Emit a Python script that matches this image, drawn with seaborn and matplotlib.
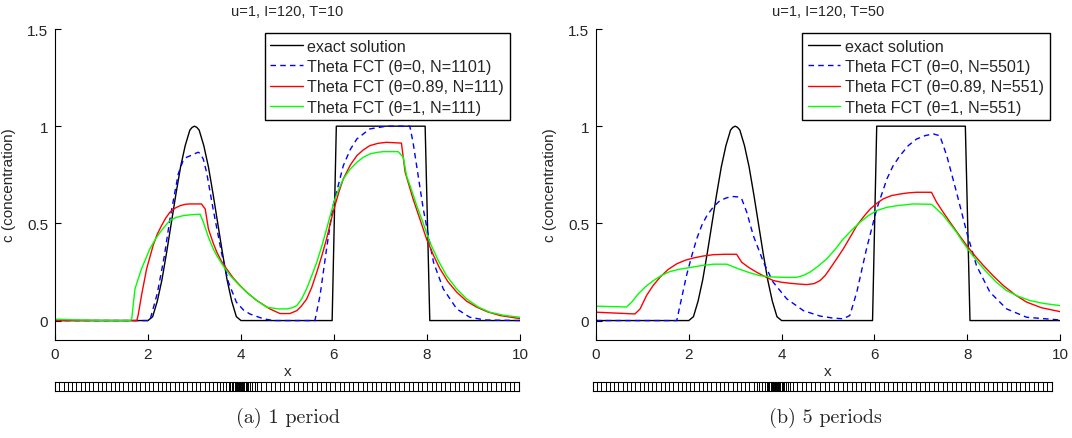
import numpy as np
import pandas as pd
import matplotlib
matplotlib.use("Agg")
import matplotlib.pyplot as plt
import seaborn as sns

# ---------------- data ----------------
titles = ["u=1, I=120, T=10", "u=1, I=120, T=50"]
captions = ["(a) 1 period", "(b) 5 periods"]
legend_labels = [
    ["exact solution", "Theta FCT (\u03b8=0, N=1101)", "Theta FCT (\u03b8=0.89, N=111)", "Theta FCT (\u03b8=1, N=111)"],
    ["exact solution", "Theta FCT (\u03b8=0, N=5501)", "Theta FCT (\u03b8=0.89, N=551)", "Theta FCT (\u03b8=1, N=551)"],
]
x_ticks = [0, 2, 4, 6, 8, 10]
y_ticks = [0, 0.5, 1, 1.5]
y_tick_labels = ["0", "0.5", "1", "1.5"]

x_exact = [0, 2.0, 2.1, 2.2, 2.3, 2.4, 2.5, 2.6, 2.7, 2.8, 2.9, 2.95, 3.0, 3.05, 3.1, 3.2, 3.3, 3.4,
           3.5, 3.6, 3.7, 3.8, 3.9, 4.0, 5.96, 6.05, 7.96, 8.06, 10]
c_exact = [0, 0, 0.02, 0.10, 0.21, 0.35, 0.50, 0.65, 0.79, 0.90, 0.98, 0.994, 1.0, 0.994, 0.98, 0.90, 0.79, 0.65,
           0.50, 0.35, 0.21, 0.10, 0.02, 0, 0, 1, 1, 0, 0]

# panel (a): 1 period
x_a_th0 = [0, 2.04, 2.2, 2.35, 2.47, 2.65, 2.75, 2.83, 2.93, 3.02, 3.08, 3.12, 3.19, 3.26, 3.40, 3.58, 3.73,
           3.90, 4.05, 4.19, 4.48, 4.7, 5.59, 5.70, 5.84, 5.98, 6.20, 6.35, 6.49, 6.77, 7.13, 7.63, 7.70,
           7.81, 7.92, 8.03, 8.14, 8.35, 8.64, 8.92, 9.25, 10]
c_a_th0 = [0, 0, 0.14, 0.33, 0.52, 0.754, 0.82, 0.84, 0.85, 0.86, 0.866, 0.86, 0.83, 0.763, 0.574, 0.35, 0.197,
           0.095, 0.055, 0.034, 0.009, 0.0, 0, 0.129, 0.369, 0.591, 0.797, 0.88, 0.934, 0.986, 1.0, 1.0, 0.917,
           0.745, 0.574, 0.437, 0.30, 0.163, 0.06, 0.017, 0.003, 0]

x_a_th089 = [0, 1.76, 1.79, 1.86, 1.97, 2.11, 2.2, 2.29, 2.38, 2.47, 2.58, 2.69, 2.80, 2.90, 3.15, 3.23, 3.30,
             3.40, 3.48, 3.58, 3.69, 3.83, 3.98, 4.15, 4.34, 4.62, 4.84, 5.05, 5.20, 5.30, 5.41, 5.52, 5.63,
             5.74, 5.84, 5.93, 6.02, 6.11, 6.20, 6.35, 6.49, 6.63, 6.77, 6.95, 7.13, 7.45, 7.53, 7.70, 7.85,
             7.99, 8.14, 8.28, 8.45, 8.64, 8.85, 9.07, 9.30, 9.57, 10]
c_a_th089 = [0, 0, 0.03, 0.129, 0.266, 0.386, 0.445, 0.488, 0.527, 0.557, 0.578, 0.591, 0.598, 0.60, 0.60, 0.574, 0.471,
             0.40, 0.352, 0.305, 0.266, 0.22, 0.18, 0.14, 0.103, 0.06, 0.036, 0.036, 0.051, 0.075, 0.11, 0.17, 0.249,
             0.335, 0.42, 0.51, 0.591, 0.665, 0.729, 0.80, 0.848, 0.878, 0.90, 0.912, 0.917, 0.913, 0.763, 0.626, 0.52,
             0.42, 0.335, 0.266, 0.20, 0.146, 0.10, 0.069, 0.045, 0.026, 0.01]

x_a_th1 = [0, 0.5, 1.0, 1.62, 1.65, 1.72, 1.86, 2.04, 2.15, 2.26, 2.37, 2.47, 2.6, 2.76, 2.95, 3.12, 3.19, 3.30,
           3.40, 3.48, 3.62, 3.77, 3.95, 4.12, 4.33, 4.55, 4.8, 4.98, 5.10, 5.20, 5.30, 5.41, 5.52, 5.63, 5.74,
           5.84, 5.93, 6.02, 6.11, 6.20, 6.35, 6.49, 6.63, 6.77, 6.92, 7.06, 7.38, 7.49, 7.56, 7.67, 7.78, 7.92,
           8.06, 8.24, 8.42, 8.63, 8.85, 9.10, 9.35, 9.65, 10]
c_a_th1 = [0.007, 0.003, 0.001, 0.0, 0.009, 0.163, 0.266, 0.369, 0.415, 0.454, 0.487, 0.514, 0.53, 0.54, 0.545, 0.547,
           0.506, 0.429, 0.37, 0.334, 0.28, 0.231, 0.185, 0.146, 0.105, 0.069, 0.06, 0.06, 0.066, 0.077, 0.11, 0.163,
           0.23, 0.30, 0.385, 0.471, 0.55, 0.626, 0.68, 0.729, 0.78, 0.814, 0.84, 0.857, 0.865, 0.869, 0.869, 0.84,
           0.745, 0.67, 0.591, 0.50, 0.403, 0.31, 0.231, 0.165, 0.112, 0.07, 0.043, 0.027, 0.017]

# panel (b): 5 periods
x_b_th0 = [0, 1.74, 1.81, 1.95, 2.06, 2.17, 2.28, 2.39, 2.53, 2.67, 2.82, 2.96, 3.07, 3.14, 3.25, 3.39, 3.61,
           3.82, 4.11, 4.47, 4.83, 5.10, 5.33, 5.47, 5.62, 5.83, 6.05, 6.27, 6.40, 6.55, 6.73, 6.91, 7.10, 7.27,
           7.41, 7.56, 7.77, 7.99, 8.20, 8.49, 8.85, 9.28, 10]
c_b_th0 = [0, 0, 0.077, 0.231, 0.33, 0.42, 0.49, 0.54, 0.585, 0.617, 0.632, 0.638, 0.636, 0.626, 0.557, 0.437, 0.30,
           0.197, 0.112, 0.051, 0.023, 0.013, 0.009, 0.026, 0.146, 0.369, 0.574, 0.729, 0.795, 0.848, 0.90, 0.934,
           0.952, 0.96, 0.951, 0.848, 0.66, 0.454, 0.283, 0.146, 0.06, 0.017, 0.003]

x_b_th089 = [0, 0.84, 0.95, 1.09, 1.23, 1.38, 1.55, 1.74, 1.92, 2.10, 2.31, 2.53, 2.78, 3.03, 3.14, 3.30, 3.46,
             3.64, 3.82, 4.00, 4.18, 4.36, 4.54, 4.70, 4.83, 4.94, 5.04, 5.18, 5.33, 5.48, 5.62, 5.77, 5.91,
             6.05, 6.19, 6.37, 6.55, 6.73, 6.91, 7.23, 7.34, 7.48, 7.63, 7.81, 7.99, 8.17, 8.35, 8.56, 8.78,
             9.03, 9.28, 9.60, 10]
c_b_th089 = [0.043, 0.034, 0.06, 0.129, 0.18, 0.223, 0.262, 0.292, 0.31, 0.322, 0.332, 0.339, 0.341, 0.341, 0.30, 0.272,
             0.249, 0.226, 0.206, 0.197, 0.192, 0.188, 0.185, 0.19, 0.206, 0.232, 0.266, 0.315, 0.369, 0.43, 0.488,
             0.535, 0.574, 0.603, 0.626, 0.643, 0.651, 0.657, 0.66, 0.66, 0.609, 0.558, 0.506, 0.445, 0.386, 0.332,
             0.283, 0.23, 0.18, 0.133, 0.095, 0.066, 0.046]

x_b_th1 = [0, 0.66, 0.77, 0.91, 1.07, 1.24, 1.41, 1.59, 1.80, 2.03, 2.28, 2.53, 2.82, 3.07, 3.30, 3.53, 3.75,
           3.97, 4.15, 4.33, 4.47, 4.61, 4.79, 4.97, 5.15, 5.33, 5.51, 5.69, 5.87, 6.05, 6.26, 6.48, 6.84, 7.23,
           7.36, 7.49, 7.63, 7.77, 7.91, 8.06, 8.24, 8.42, 8.63, 8.85, 9.10, 9.35, 9.65, 10]
c_b_th1 = [0.074, 0.07, 0.095, 0.137, 0.175, 0.206, 0.232, 0.252, 0.264, 0.273, 0.283, 0.29, 0.29, 0.266, 0.247, 0.231,
           0.225, 0.223, 0.222, 0.223, 0.232, 0.249, 0.28, 0.317, 0.365, 0.42, 0.465, 0.506, 0.54, 0.566, 0.582, 0.591,
           0.60, 0.598, 0.57, 0.54, 0.497, 0.454, 0.403, 0.352, 0.298, 0.249, 0.197, 0.154, 0.125, 0.103, 0.088, 0.077]

# mesh (I=120 cells), refined near x=4
mesh_breaks = [0, 3.5, 3.75, 3.9, 4.05, 4.2, 4.35, 10]
mesh_cells = [38, 4, 5, 8, 5, 3, 57]

# ---------------- styling ----------------
sns.set_style("ticks")
plt.rcParams["font.family"] = ["Liberation Sans", "DejaVu Sans"]
plt.rcParams["xtick.direction"] = "in"
plt.rcParams["ytick.direction"] = "in"

W, H = 1072, 439
fig = plt.figure(figsize=(W / 100, H / 100), dpi=100)

colors = ["black", "#0000ff", "#ff0000", "#00ff00"]

panels = [
    dict(ax=[55, 30, 520, 341], strip=[55, 383, 519, 392], cap_x=288,
         series=[(x_exact, c_exact), (x_a_th0, c_a_th0), (x_a_th089, c_a_th089), (x_a_th1, c_a_th1)]),
    dict(ax=[596, 30, 1060, 341], strip=[593, 383, 1052, 392], cap_x=825,
         series=[(x_exact, c_exact), (x_b_th0, c_b_th0), (x_b_th089, c_b_th089), (x_b_th1, c_b_th1)]),
]

nodes = np.unique(np.concatenate([np.linspace(a, b, n + 1)
                                  for a, b, n in zip(mesh_breaks[:-1], mesh_breaks[1:], mesh_cells)]))

for i, p in enumerate(panels):
    l, t, r, b = p["ax"]
    ax = fig.add_axes([l / W, (H - b) / H, (r - l) / W, (b - t) / H])
    for j, (xs, cs) in enumerate(p["series"]):
        df = pd.DataFrame({"x": xs, "c": cs})
        kw = dict(dashes=(4, 3)) if j == 1 else {}
        sns.lineplot(data=df, x="x", y="c", ax=ax, color=colors[j], lw=1.0,
                     sort=False, estimator=None, label=legend_labels[i][j], **kw)
    ax.set_xlim(0, 10)
    ax.set_ylim(-0.1, 1.5)
    ax.set_xticks(x_ticks)
    ax.set_yticks(y_ticks)
    ax.set_yticklabels(y_tick_labels)
    ax.tick_params(bottom=True, left=True, direction="in", labelsize=11, length=4.5, width=0.8,
                   color="black", pad=5)
    for s in ["top", "right"]:
        ax.spines[s].set_visible(False)
    for s in ["left", "bottom"]:
        ax.spines[s].set_color("black")
        ax.spines[s].set_linewidth(0.8)
    ax.set_xlabel("x", fontsize=11, labelpad=2)
    ax.set_ylabel("c (concentration)", fontsize=11, labelpad=8)
    ax.set_title(titles[i], fontsize=10.5, pad=10)
    leg = ax.legend(loc="upper right", bbox_to_anchor=(0.978, 0.987), borderaxespad=0,
                    fontsize=11.6, handlelength=2.0, handletextpad=0.3, labelspacing=0.33,
                    borderpad=0.35, fancybox=False, framealpha=1, edgecolor="black")
    leg.get_frame().set_linewidth(1.0)

    # mesh strip
    sl, st, sr, sb = p["strip"]
    sax = fig.add_axes([sl / W, (H - sb) / H, (sr - sl) / W, (sb - st) / H])
    sax.vlines(nodes, 0, 1, color="black", lw=0.7)
    sax.set_xlim(0, 10)
    sax.set_ylim(0, 1)
    sax.set_xticks([])
    sax.set_yticks([])
    for s in sax.spines.values():
        s.set_visible(True)
        s.set_color("black")
        s.set_linewidth(0.8)

    fig.text(p["cap_x"] / W, 1 - 418 / H, captions[i], ha="center", va="center",
             fontsize=14.5, family=["cmr10", "DejaVu Serif"])

fig.savefig("out.png", dpi=100)
